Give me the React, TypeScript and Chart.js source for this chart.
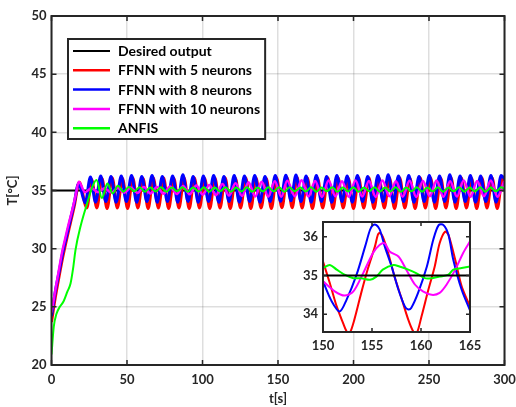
import React, { useEffect, useRef } from "react";
import { Chart, registerables } from "chart.js";
Chart.register(...registerables);

const FONT = "Lato, 'Open Sans', sans-serif";
const AXIS_COLOR = "#262626";
const GRID_COLOR = "rgba(0,0,0,0.13)";

const LABELS = ["Desired output", "FFNN with 5 neurons", "FFNN with 8 neurons", "FFNN with 10 neurons", "ANFIS"];
const COLORS = ["#000000", "#ff0000", "#0000ff", "#ff00ff", "#00ff00"];

const X_TICKS = [0, 50, 100, 150, 200, 250, 300];
const Y_TICKS = [20, 25, 30, 35, 40, 45, 50];
const INSET_X_TICKS = [150, 155, 160, 165];
const INSET_Y_TICKS = [34, 35, 36];

// Desired output
const DESIRED_T = [0, 300];
const DESIRED_V = [35, 35];

// FFNN with 5 neurons (red)
const FFNN5_T = [0, 2.5, 5, 7.5, 10, 12.5, 15, 18.4, 23.4,
  26.6, 30.0, 33.4, 36.8, 40.2, 43.6, 47.0, 50.4, 53.8, 57.2, 60.6, 64.0, 67.4, 70.8, 74.2, 77.6, 81.0, 84.4, 87.8, 91.2,
  94.6, 98.0, 101.4, 104.8, 108.2, 111.6, 115.0, 118.4, 121.8, 125.2, 128.6, 132.0, 135.4, 138.8, 142.2, 145.6, 149.0,
  152.6, 156.0, 159.4, 162.6, 166.0, 169.4, 172.8, 176.2, 179.6, 183.0, 186.4, 189.8, 193.2, 196.6, 200.0, 203.4, 206.8,
  210.2, 213.6, 217.0, 220.4, 223.8, 227.2, 230.6, 234.0, 237.4, 240.8, 244.2, 247.6, 251.0, 254.4, 257.8, 261.2, 264.6,
  268.0, 271.4, 274.8, 278.2, 281.6, 285.0, 288.4, 291.8, 295.2, 298.6, 300];
const FFNN5_V = [23.7, 25.8, 27.6, 29.3, 30.8, 32.2, 33.6, 35.7, 33.5,
  35.95, 33.5, 36.05, 33.45, 36.1, 33.5, 36.05, 33.45, 36.1, 33.5, 36.05, 33.45, 36.1, 33.5, 36.1, 33.45, 36.05, 33.5, 36.1, 33.45,
  36.1, 33.5, 36.05, 33.45, 36.1, 33.5, 36.1, 33.45, 36.05, 33.5, 36.1, 33.45, 36.1, 33.5, 36.05, 33.45, 36.1,
  33.52, 36.1, 33.52, 36.13, 33.5, 36.1, 33.45, 36.05, 33.5, 36.1, 33.45, 36.1, 33.5, 36.05, 33.45, 36.1, 33.5,
  36.1, 33.45, 36.05, 33.5, 36.1, 33.45, 36.1, 33.5, 36.05, 33.45, 36.1, 33.5, 36.1, 33.45, 36.05, 33.5, 36.1,
  33.45, 36.1, 33.5, 36.05, 33.45, 36.1, 33.5, 36.1, 33.45, 36.05, 35.6];

// FFNN with 8 neurons (blue)
const FFNN8_T = [0, 2.5, 5, 7.5, 10, 12.5, 15, 18, 22.3,
  25.8, 29.2, 32.6, 36.0, 39.4, 42.8, 46.2, 49.6, 53.0, 56.4, 59.8, 63.2, 66.6, 70.0, 73.4, 76.8, 80.2, 83.6, 87.0, 90.4,
  93.8, 97.2, 100.6, 104.0, 107.4, 110.8, 114.2, 117.6, 121.0, 124.4, 127.8, 131.2, 134.6, 138.0, 141.4, 144.8, 148.2,
  151.7, 155.2, 158.6, 161.9, 165.2, 168.6, 172.0, 175.4, 178.8, 182.2, 185.6, 189.0, 192.4, 195.8, 199.2, 202.6, 206.0,
  209.4, 212.8, 216.2, 219.6, 223.0, 226.4, 229.8, 233.2, 236.6, 240.0, 243.4, 246.8, 250.2, 253.6, 257.0, 260.4, 263.8,
  267.2, 270.6, 274.0, 277.4, 280.8, 284.2, 287.6, 291.0, 294.4, 297.8, 300];
const FFNN8_V = [24.2, 26.3, 28.0, 29.7, 31.1, 32.5, 33.9, 35.6, 33.95,
  36.15, 34.0, 36.25, 34.05, 36.2, 34.0, 36.25, 34.05, 36.3, 34.0, 36.2, 34.05, 36.3, 34.0, 36.2, 34.05, 36.25, 34.0, 36.35, 34.05,
  36.2, 34.0, 36.25, 34.05, 36.3, 34.0, 36.2, 34.05, 36.3, 34.0, 36.25, 34.05, 36.3, 34.0, 36.2, 34.05, 36.3,
  34.07, 36.32, 34.12, 36.33, 34.05, 36.25, 34.0, 36.3, 34.05, 36.2, 34.0, 36.3, 34.05, 36.25, 34.0, 36.3, 34.05,
  36.2, 34.0, 36.3, 34.05, 36.35, 34.0, 36.25, 34.05, 36.3, 34.0, 36.2, 34.05, 36.3, 34.0, 36.25, 34.05, 36.35,
  34.0, 36.25, 34.05, 36.3, 34.0, 36.25, 34.05, 36.3, 34.0, 36.3, 36.0];

// FFNN with 10 neurons (magenta)
const FFNN10_T = [0, 2.5, 4.8, 7.0, 9.3, 11.5, 13.7, 16.0, 18.1, 22.2,
  26.5, 30.9, 35.2, 39.5, 43.9, 48.2, 52.5, 56.9, 61.2, 65.5, 69.9, 74.2, 78.5, 82.9, 87.2, 91.5, 95.9, 100.2,
  104.5, 108.9, 113.2, 117.5, 121.9, 126.2, 130.5, 134.9, 139.2, 143.5, 147.9, 152.2, 156.1, 161.2, 165.6, 170.2,
  174.6, 179.1, 183.5, 188.0, 192.4, 196.9, 201.3, 205.8, 210.2, 214.7, 219.2, 223.7, 228.1, 232.6, 237.1, 241.6,
  246.0, 250.5, 255.0, 259.5, 264.0, 268.5, 273.0, 277.5, 281.9, 286.4, 290.9, 295.4, 299.8];
const FFNN10_V = [24.5, 26.4, 28.1, 29.7, 31.0, 32.2, 33.3, 34.6, 35.75, 34.85,
  35.2, 34.85, 35.2, 34.82, 35.22, 34.8, 35.25, 34.78, 35.3, 34.75, 35.3, 34.72, 35.35, 34.7, 35.38, 34.68, 35.42, 34.65,
  35.48, 34.6, 35.55, 34.56, 35.62, 34.52, 35.7, 34.48, 35.75, 34.47, 35.8, 34.46, 35.83, 34.5, 35.88, 34.48,
  35.82, 34.45, 35.85, 34.5, 35.8, 34.46, 35.85, 34.48, 35.82, 34.45, 35.86, 34.5, 35.8, 34.47, 35.84, 34.45,
  35.82, 34.5, 35.85, 34.46, 35.8, 34.48, 35.86, 34.45, 35.82, 34.5, 35.85, 34.47, 35.8];

// ANFIS (green)
const ANFIS_T = [0, 1.5, 3.3, 5.5, 8.1, 10.5, 12.6, 14.3, 15.9, 19.2, 23.6, 27.0, 29.8, 33.4, 37.0, 40.5, 44.0, 47.6,
  51.2, 54.8, 58.3, 61.9, 65.4, 69.0, 72.5, 76.1, 79.6, 83.2, 86.7, 90.3, 93.8, 97.4, 101.0, 104.5, 108.1, 111.6,
  115.2, 118.8, 122.3, 125.9, 129.4, 133.0, 136.5, 140.1, 143.6, 147.2, 150.8, 154.3, 157.6, 161.0, 164.9, 168.4,
  171.9, 175.4, 178.9, 182.4, 185.9, 189.4, 192.9, 196.4, 199.9, 203.4, 206.9, 210.4, 213.9, 217.4, 220.9, 224.4,
  227.9, 231.4, 234.9, 238.4, 241.9, 245.4, 248.9, 252.4, 255.9, 259.4, 262.9, 266.4, 269.9, 273.4, 276.9, 280.4,
  283.9, 287.4, 290.9, 294.4, 297.9, 300];
const ANFIS_V = [20.9, 23.3, 24.4, 25.0, 25.5, 26.3, 27.0, 28.3, 29.9, 31.9, 33.9, 35.3, 35.9, 34.35, 35.6, 34.75, 35.4, 34.9,
  35.3, 34.92, 35.28, 34.9, 35.25, 34.92, 35.27, 34.9, 35.25, 34.93, 35.28, 34.9, 35.25, 34.92, 35.27, 34.9, 35.25, 34.93,
  35.28, 34.9, 35.26, 34.92, 35.27, 34.9, 35.25, 34.92, 35.28, 34.92, 35.27, 34.9, 35.27, 34.93, 35.25, 34.92,
  35.27, 34.9, 35.25, 34.93, 35.28, 34.9, 35.25, 34.92, 35.27, 34.9, 35.26, 34.93, 35.28, 34.9, 35.25, 34.92,
  35.27, 34.9, 35.25, 34.93, 35.28, 34.9, 35.26, 34.92, 35.27, 34.9, 35.25, 34.93, 35.28, 34.9, 35.25, 34.92,
  35.27, 34.9, 35.25, 34.93, 35.27, 35.1];

// Inset (zoom of 150-165 s)
const IN_DESIRED_T = [150, 165];
const IN_DESIRED_V = [35, 35];
const IN_FFNN5_T = [150.0, 150.7, 151.4, 152.05, 152.4, 152.7, 153.2, 153.9, 154.6, 155.3, 155.6, 155.8, 156.1, 156.65,
  157.3, 158.0, 158.7, 159.2, 159.55, 160.05, 160.75, 161.4, 161.9, 162.45, 162.8, 163.5, 164.15, 165.0];
const IN_FFNN5_V = [35.36, 34.8, 34.2, 33.77, 33.56, 33.5, 33.86, 34.55, 35.19, 35.75, 36.05, 36.1, 36.0, 35.58,
  34.97, 34.42, 33.86, 33.56, 33.5, 33.94, 34.63, 35.23, 35.83, 36.13, 36.05, 35.4, 34.72, 34.2];
const IN_FFNN8_T = [150.0, 150.85, 151.7, 152.4, 153.4, 154.3, 154.8, 155.1, 155.45, 155.8, 156.3, 157.0, 157.7, 158.35,
  158.7, 159.0, 159.7, 160.6, 161.25, 161.8, 162.3, 162.8, 163.3, 164.15, 165.0];
const IN_FFNN8_V = [34.85, 34.35, 34.07, 34.37, 35.0, 35.75, 36.18, 36.3, 36.3, 36.18, 35.75, 35.23, 34.63, 34.2,
  34.12, 34.16, 34.55, 35.23, 35.92, 36.3, 36.3, 36.05, 35.4, 34.63, 34.1];
const IN_FFNN10_T = [150.0, 151.2, 152.2, 153.1, 154.1, 155.1, 155.8, 156.3, 156.8, 157.7, 158.5, 159.4, 160.2, 161.1,
  161.9, 162.6, 163.5, 164.3, 165.0];
const IN_FFNN10_V = [34.85, 34.59, 34.48, 34.59, 35.06, 35.58, 35.79, 35.83, 35.62, 35.49, 35.15, 34.76, 34.59, 34.5,
  34.55, 34.76, 35.15, 35.58, 35.88];
const IN_ANFIS_T = [150.0, 150.7, 151.4, 152.2, 153.1, 153.9, 154.8, 155.45, 156.1, 157.2, 157.8, 158.7, 159.5, 160.4,
  161.1, 161.9, 162.8, 163.3, 164.15, 165.0];
const IN_ANFIS_V = [35.19, 35.27, 35.15, 35.02, 34.93, 34.93, 34.89, 34.97, 35.15, 35.27, 35.23, 35.15, 35.06, 34.93,
  34.93, 34.97, 35.02, 35.15, 35.19, 35.23];

const pts = (t: number[], v: number[]) => t.map((x, i) => ({ x, y: v[i] }));

function makeFrame(len: number, width: number, tickWidth: number) {
  return {
    id: "frame",
    afterDatasetsDraw(chart: any) {
      const { ctx, chartArea: a, scales } = chart;
      ctx.save();
      ctx.strokeStyle = AXIS_COLOR;
      ctx.lineWidth = tickWidth;
      ctx.beginPath();
      for (const t of scales.x.ticks) {
        const px = scales.x.getPixelForValue(t.value);
        ctx.moveTo(px, a.bottom);
        ctx.lineTo(px, a.bottom - len);
        ctx.moveTo(px, a.top);
        ctx.lineTo(px, a.top + len);
      }
      for (const t of scales.y.ticks) {
        const py = scales.y.getPixelForValue(t.value);
        ctx.moveTo(a.left, py);
        ctx.lineTo(a.left + len, py);
        ctx.moveTo(a.right, py);
        ctx.lineTo(a.right - len, py);
      }
      ctx.stroke();
      ctx.lineWidth = width;
      ctx.strokeRect(a.left, a.top, a.right - a.left, a.bottom - a.top);
      ctx.restore();
    },
  };
}

const whiteArea = {
  id: "whiteArea",
  beforeDatasetsDraw(chart: any) {
    const { ctx, chartArea: a } = chart;
    ctx.save();
    ctx.fillStyle = "#ffffff";
    ctx.fillRect(a.left, a.top, a.right - a.left, a.bottom - a.top);
    ctx.restore();
  },
};

const boxLegend = {
  id: "boxLegend",
  afterDraw(chart: any) {
    const ctx = chart.ctx;
    const x = 68, y = 39, h = 100, row0 = 51, gap = 19.3, l0 = 73, l1 = 110, tx = 118;
    ctx.save();
    ctx.font = `bold 14px ${FONT}`;
    const ds = chart.data.datasets;
    const maxW = Math.max(...ds.map((d: any) => ctx.measureText(d.label).width));
    const w = tx - x + maxW + 5;
    ctx.fillStyle = "#ffffff";
    ctx.fillRect(x, y, w, h);
    ctx.strokeStyle = AXIS_COLOR;
    ctx.lineWidth = 2;
    ctx.strokeRect(x, y, w, h);
    ds.forEach((d: any, i: number) => {
      const ry = row0 + i * gap;
      ctx.strokeStyle = d.borderColor;
      ctx.lineWidth = i === 0 ? 2 : 2.5;
      ctx.beginPath();
      ctx.moveTo(l0, ry);
      ctx.lineTo(l1, ry);
      ctx.stroke();
      ctx.fillStyle = "#000000";
      ctx.textBaseline = "middle";
      ctx.textAlign = "left";
      ctx.fillText(d.label, tx, ry + 0.5);
    });
    ctx.restore();
  },
};

const tickFont = { family: FONT, size: 13, weight: "bold" as const };
const noEdgePad = (s: any) => { s.paddingLeft = 0; s.paddingRight = 0; };

export default function App() {
  const mainRef = useRef<HTMLCanvasElement>(null);
  const insetRef = useRef<HTMLCanvasElement>(null);

  useEffect(() => {
    const mainSeries = [
      { t: DESIRED_T, v: DESIRED_V, w: 2, order: 4 },
      { t: FFNN5_T, v: FFNN5_V, w: 3, order: 3 },
      { t: FFNN8_T, v: FFNN8_V, w: 3, order: 2 },
      { t: FFNN10_T, v: FFNN10_V, w: 2.5, order: 1 },
      { t: ANFIS_T, v: ANFIS_V, w: 2, order: 0 },
    ];
    const main = new Chart(mainRef.current!, {
      type: "line",
      data: {
        datasets: mainSeries.map((s, i) => ({
          label: LABELS[i],
          data: pts(s.t, s.v),
          borderColor: COLORS[i],
          backgroundColor: COLORS[i],
          borderWidth: s.w,
          pointRadius: 0,
          cubicInterpolationMode: "monotone" as const,
          fill: false,
          order: s.order,
        })),
      },
      options: {
        responsive: false,
        animation: false,
        layout: { padding: { top: 16, right: 11.5, left: 0, bottom: 0 } },
        plugins: { legend: { display: false }, tooltip: { enabled: false } },
        scales: {
          x: {
            type: "linear",
            min: 0,
            max: 300,
            afterBuildTicks: (s: any) => { s.ticks = X_TICKS.map((value) => ({ value })); },
            afterFit: (s: any) => { s.height = 42; noEdgePad(s); },
            grid: { color: GRID_COLOR, lineWidth: 1.5, drawTicks: false },
            border: { display: false },
            ticks: { color: AXIS_COLOR, font: tickFont, padding: 7, maxRotation: 0, autoSkip: false },
            title: { display: true, text: "t[s]", color: AXIS_COLOR, font: tickFont, padding: { top: 0, bottom: 0 } },
          },
          y: {
            type: "linear",
            min: 20,
            max: 50,
            afterBuildTicks: (s: any) => { s.ticks = Y_TICKS.map((value) => ({ value })); },
            afterFit: (s: any) => { s.width = 51.5; s.paddingTop = 0; s.paddingBottom = 0; },
            grid: { color: GRID_COLOR, lineWidth: 1.5, drawTicks: false },
            border: { display: false },
            ticks: { color: AXIS_COLOR, font: tickFont, padding: 5, autoSkip: false },
            title: { display: true, text: "T[°C]", color: AXIS_COLOR, font: tickFont, padding: { top: 5, bottom: 0 } },
          },
        },
      },
      plugins: [makeFrame(5, 2, 1.5), boxLegend],
    });

    const insetSeries = [
      { t: IN_DESIRED_T, v: IN_DESIRED_V, w: 2, order: 0 },
      { t: IN_FFNN5_T, v: IN_FFNN5_V, w: 2, order: 4 },
      { t: IN_FFNN8_T, v: IN_FFNN8_V, w: 2, order: 3 },
      { t: IN_FFNN10_T, v: IN_FFNN10_V, w: 2, order: 2 },
      { t: IN_ANFIS_T, v: IN_ANFIS_V, w: 2, order: 1 },
    ];
    const inset = new Chart(insetRef.current!, {
      type: "line",
      data: {
        datasets: insetSeries.map((s, i) => ({
          label: LABELS[i],
          data: pts(s.t, s.v),
          borderColor: COLORS[i],
          backgroundColor: COLORS[i],
          borderWidth: s.w,
          pointRadius: 0,
          tension: 0.3,
          fill: false,
          order: s.order,
        })),
      },
      options: {
        responsive: false,
        animation: false,
        layout: { padding: { top: 8, right: 16, left: 0, bottom: 0 } },
        plugins: { legend: { display: false }, tooltip: { enabled: false } },
        scales: {
          x: {
            type: "linear",
            min: 150,
            max: 165,
            afterBuildTicks: (s: any) => { s.ticks = INSET_X_TICKS.map((value) => ({ value })); },
            afterFit: (s: any) => { s.height = 27; noEdgePad(s); },
            grid: { display: false, drawTicks: false },
            border: { display: false },
            ticks: { color: AXIS_COLOR, font: tickFont, padding: 6, maxRotation: 0, autoSkip: false },
          },
          y: {
            type: "linear",
            min: 33.54,
            max: 36.38,
            afterBuildTicks: (s: any) => { s.ticks = INSET_Y_TICKS.map((value) => ({ value })); },
            afterFit: (s: any) => { s.width = 33; s.paddingTop = 0; s.paddingBottom = 0; },
            grid: { display: false, drawTicks: false },
            border: { display: false },
            ticks: { color: AXIS_COLOR, font: tickFont, padding: 5, autoSkip: false },
          },
        },
      },
      plugins: [whiteArea, makeFrame(4, 2, 1.5)],
    });

    return () => {
      main.destroy();
      inset.destroy();
    };
  }, []);

  return (
    <div style={{ position: "absolute", left: 0, top: 0, width: 516, height: 407, background: "#ffffff" }}>
      <canvas ref={mainRef} width={516} height={407} style={{ position: "absolute", left: 0, top: 0, width: 516, height: 407 }} />
      <canvas ref={insetRef} width={196} height={145} style={{ position: "absolute", left: 290, top: 214, width: 196, height: 145 }} />
    </div>
  );
}
